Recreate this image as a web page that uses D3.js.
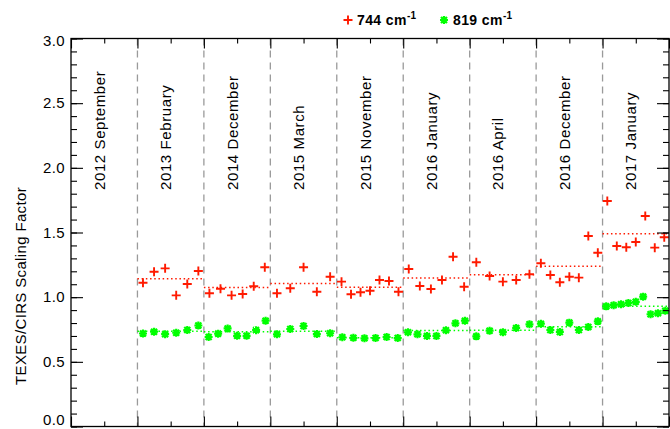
<!DOCTYPE html>
<html>
<head>
<meta charset="utf-8">
<script src="https://cdn.jsdelivr.net/npm/d3@7"></script>
<style>
  html, body { margin: 0; padding: 0; background: #fff; }
  svg { display: block; font-family: "Liberation Sans", Arial, Helvetica, sans-serif; }
</style>
</head>
<body>
<svg id="chart" width="670" height="429"></svg>
<script>
// Observation epochs, one column each
const epochs = [
  "2012 September", "2013 February", "2014 December", "2015 March",
  "2015 November", "2016 January", "2016 April", "2016 December", "2017 January"
];

// Scaling factors per epoch, 744 cm-1
const scale744 = [
  [],
  [1.112, 1.197, 1.223, 1.014, 1.102, 1.202],
  [1.030, 1.065, 1.014, 1.024, 1.084, 1.231],
  [1.030, 1.069, 1.231, 1.042, 1.158],
  [1.120, 1.022, 1.038, 1.050, 1.133, 1.125, 1.042],
  [1.218, 1.086, 1.063, 1.133, 1.313, 1.081],
  [1.270, 1.164, 1.120, 1.133, 1.177],
  [1.262, 1.171, 1.115, 1.158, 1.151, 1.473, 1.344],
  [1.744, 1.396, 1.386, 1.427, 1.628, 1.383, 1.463]
];

// Scaling factors per epoch, 819 cm-1
const scale819 = [
  [],
  [0.719, 0.733, 0.714, 0.725, 0.746, 0.781],
  [0.692, 0.718, 0.758, 0.701, 0.701, 0.745, 0.818],
  [0.713, 0.754, 0.777, 0.715, 0.721],
  [0.690, 0.686, 0.682, 0.684, 0.692, 0.684],
  [0.728, 0.713, 0.700, 0.700, 0.744, 0.798, 0.818],
  [0.697, 0.741, 0.729, 0.762, 0.790],
  [0.795, 0.746, 0.731, 0.803, 0.746, 0.769, 0.813],
  [0.929, 0.938, 0.945, 0.955, 0.964, 1.004, 0.868, 0.875, 0.895]
];

const yMajorTicks = [0, 0.5, 1.0, 1.5, 2.0, 2.5, 3.0];
const yMinorTicks = d3.range(0, 3.0001, 0.1);
const legendLabels = ["744", "819"];

const RED = "#ff1a00";
const GREEN = "#00ff00";

const svg = d3.select("#chart");
const plot = { left: 71, right: 669, top: 38.5, bottom: 426.5 };

const x = d3.scaleLinear().domain([0, epochs.length]).range([plot.left, plot.right]);
const y = d3.scaleLinear().domain([0, 3]).range([plot.bottom, plot.top]);

const plusPath = "M-4.5,0H4.5M0,-4.5V4.5";
const starPath = "M-4,0H4M0,-4V4M-3,-3L3,3M-3,3L3,-3";

// Epoch separators
svg.append("g").selectAll("line")
  .data(d3.range(1, epochs.length))
  .join("line")
  .attr("x1", d => x(d)).attr("x2", d => x(d))
  .attr("y1", plot.top).attr("y2", plot.bottom)
  .attr("stroke", "#9a9a9a")
  .attr("stroke-width", 1.3)
  .attr("stroke-dasharray", "7,5");

// Epoch labels (rotated)
svg.append("g").selectAll("text")
  .data(epochs)
  .join("text")
  .attr("transform", (d, i) => `translate(${x(i + 0.5) + 0.5},190) rotate(-90)`)
  .attr("font-size", 15)
  .attr("letter-spacing", 0.6)
  .attr("fill", "#000")
  .text(d => d);

// Series points spread evenly inside each epoch column
function points(series) {
  const out = [];
  series.forEach((vals, k) => {
    vals.forEach((v, i) => out.push({ x: k + (i + 0.5) / vals.length, v }));
  });
  return out;
}

function means(series) {
  return series.map((vals, k) => ({ k, m: vals.length ? d3.mean(vals) : null }))
    .filter(d => d.m !== null);
}

function drawSeries(series, color, path, sw) {
  const g = svg.append("g");
  g.selectAll("line.mean")
    .data(means(series))
    .join("line")
    .attr("class", "mean")
    .attr("x1", d => x(d.k)).attr("x2", d => x(d.k + 1))
    .attr("y1", d => y(d.m)).attr("y2", d => y(d.m))
    .attr("stroke", color)
    .attr("stroke-width", 1.5)
    .attr("stroke-dasharray", "1.5,2.7");
  g.selectAll("path.pt")
    .data(points(series))
    .join("path")
    .attr("class", "pt")
    .attr("d", path)
    .attr("transform", d => `translate(${x(d.x)},${y(d.v)})`)
    .attr("stroke", color)
    .attr("stroke-width", sw)
    .attr("fill", "none");
}

drawSeries(scale744, RED, plusPath, 1.9);
drawSeries(scale819, GREEN, starPath, 2.2);

// Axes: ticks point inward on all four sides
const axes = svg.append("g");

const axLeft = axes.append("g").attr("transform", `translate(${plot.left},0)`)
  .call(d3.axisLeft(y).tickValues(yMajorTicks).tickSize(-12).tickPadding(6)
    .tickFormat(d3.format(".1f")));
axLeft.append("g").attr("class", "minor")
  .call(d3.axisLeft(y).tickValues(yMinorTicks).tickSize(-6).tickFormat(""));

const axRight = axes.append("g").attr("transform", `translate(${plot.right},0)`)
  .call(d3.axisRight(y).tickValues(yMajorTicks).tickSize(-12).tickFormat(""));
axRight.append("g").attr("class", "minor")
  .call(d3.axisRight(y).tickValues(yMinorTicks).tickSize(-6).tickFormat(""));

const xMajor = d3.range(0, epochs.length + 1);
const xMinor = d3.range(0.5, epochs.length, 1);

const axBottom = axes.append("g").attr("transform", `translate(0,${plot.bottom})`)
  .call(d3.axisBottom(x).tickValues(xMajor).tickSize(-10).tickFormat(""));
axBottom.append("g").attr("class", "minor")
  .call(d3.axisBottom(x).tickValues(xMinor).tickSize(-5).tickFormat(""));

const axTop = axes.append("g").attr("transform", `translate(0,${plot.top})`)
  .call(d3.axisTop(x).tickValues(xMajor).tickSize(-10).tickFormat(""));
axTop.append("g").attr("class", "minor")
  .call(d3.axisTop(x).tickValues(xMinor).tickSize(-5).tickFormat(""));

axes.selectAll(".domain").remove();
axes.selectAll(".tick line").attr("stroke", "#000").attr("stroke-width", 1.1);
axLeft.selectAll(":scope > .tick text")
  .attr("font-size", 15).attr("fill", "#000").attr("letter-spacing", 0.4)
  .attr("font-family", "Liberation Sans, Arial, sans-serif")
  .attr("dy", d => d === 0 ? "-0.12em" : d === 3 ? "0.45em" : "0.32em");

// Frame
svg.append("rect")
  .attr("x", plot.left).attr("y", plot.top)
  .attr("width", plot.right - plot.left).attr("height", plot.bottom - plot.top)
  .attr("fill", "none").attr("stroke", "#000").attr("stroke-width", 1.3);

// Y axis title
svg.append("text")
  .attr("transform", "translate(26,286) rotate(-90)")
  .attr("text-anchor", "middle")
  .attr("font-size", 15)
  .attr("letter-spacing", 0.35)
  .attr("fill", "#000")
  .text("TEXES/CIRS Scaling Factor");

// Legend
const legend = svg.append("g");
const legendItems = [
  { label: legendLabels[0], color: RED, path: plusPath, sw: 1.9, sx: 348 },
  { label: legendLabels[1], color: GREEN, path: starPath, sw: 2.2, sx: 444 }
];
legendItems.forEach(it => {
  legend.append("path")
    .attr("d", it.path)
    .attr("transform", `translate(${it.sx},20)`)
    .attr("stroke", it.color).attr("stroke-width", it.sw).attr("fill", "none");
  const t = legend.append("text")
    .attr("x", it.sx + 9).attr("y", 25)
    .attr("font-size", 14)
    .attr("font-weight", "bold")
    .attr("letter-spacing", 0.4)
    .attr("fill", "#000");
  t.append("tspan").text(it.label + " cm");
  t.append("tspan").attr("dy", -6).attr("font-size", 10).text("-1");
});
</script>
</body>
</html>
